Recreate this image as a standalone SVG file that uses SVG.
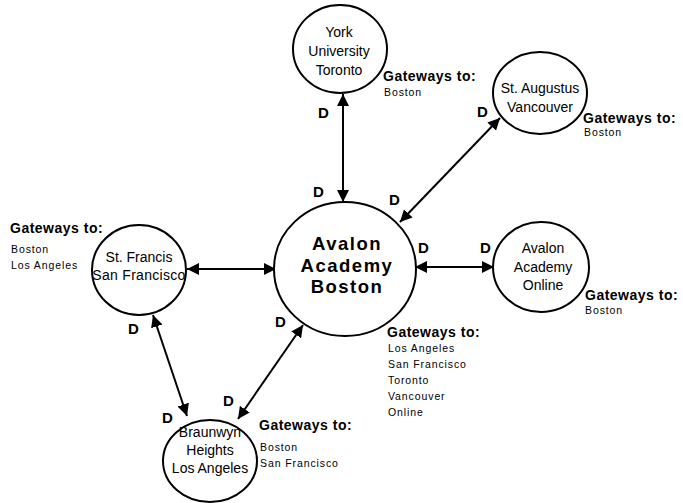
<svg xmlns="http://www.w3.org/2000/svg" width="683" height="503" viewBox="0 0 683 503">
<defs>
<style>
.node{fill:#fff;stroke:#000;stroke-width:2}
.nt{font-family:"Liberation Sans",Arial,sans-serif;font-size:14px;text-anchor:middle;fill:#000}
.bt{font-family:"Liberation Sans",Arial,sans-serif;font-size:18.5px;font-weight:bold;text-anchor:middle;letter-spacing:1.5px;fill:#000}
.gh{font-family:"Liberation Sans",Arial,sans-serif;font-size:14px;font-weight:bold;letter-spacing:0.5px;fill:#000}
.gl{font-family:"Liberation Sans",Arial,sans-serif;font-size:10.5px;letter-spacing:0.9px;fill:#000}
.d{font-family:"Liberation Sans",Arial,sans-serif;font-size:15px;font-weight:bold;fill:#000}
.c{stroke:#000;stroke-width:2;fill:none;marker-start:url(#ah);marker-end:url(#ah)}
</style>
<marker id="ah" viewBox="0 0 10 10" refX="10" refY="5" markerWidth="12" markerHeight="12" markerUnits="userSpaceOnUse" orient="auto-start-reverse">
<path d="M0,0 L10,5 L0,10 z" fill="#000"/>
</marker>
</defs>
<g id="connectors">
<line class="c" x1="343" y1="94" x2="343" y2="202"/>
<line class="c" x1="500" y1="118" x2="400" y2="222"/>
<line class="c" x1="187" y1="269" x2="276" y2="269"/>
<line class="c" x1="415" y1="267" x2="494" y2="267"/>
<line class="c" x1="153" y1="315" x2="187" y2="416"/>
<line class="c" x1="303" y1="325" x2="238" y2="419"/>
</g>
<g id="york">
<ellipse class="node" cx="340" cy="49" rx="47" ry="44"/>
<text class="nt" x="339" y="37">York</text>
<text class="nt" x="339" y="56">University</text>
<text class="nt" x="339" y="75">Toronto</text>
</g>
<g id="staugustus">
<ellipse class="node" cx="540" cy="93" rx="47" ry="41"/>
<text class="nt" x="540" y="93">St. Augustus</text>
<text class="nt" x="540" y="112">Vancouver</text>
</g>
<g id="boston">
<ellipse class="node" cx="345" cy="269" rx="71" ry="67"/>
<text class="bt" x="347" y="250">Avalon</text>
<text class="bt" x="347" y="272">Academy</text>
<text class="bt" x="347" y="293">Boston</text>
</g>
<g id="stfrancis">
<ellipse class="node" cx="139" cy="270" rx="47" ry="45"/>
<text class="nt" x="139" y="262">St. Francis</text>
<text class="nt" x="139" y="280" style="letter-spacing:0.3px">San Francisco</text>
</g>
<g id="online">
<ellipse class="node" cx="541" cy="267" rx="48" ry="45"/>
<text class="nt" x="543" y="253">Avalon</text>
<text class="nt" x="543" y="272">Academy</text>
<text class="nt" x="543" y="290">Online</text>
</g>
<g id="braunwyn">
<ellipse class="node" cx="210" cy="461" rx="47" ry="41"/>
<text class="nt" x="210" y="437">Braunwyn</text>
<text class="nt" x="210" y="455">Heights</text>
<text class="nt" x="210" y="473">Los Angeles</text>
</g>
<g id="labels">
<text class="d" x="318" y="118">D</text>
<text class="d" x="313" y="197">D</text>
<text class="d" x="477" y="117">D</text>
<text class="d" x="389" y="205">D</text>
<text class="d" x="418" y="253">D</text>
<text class="d" x="480" y="253">D</text>
<text class="d" x="128" y="334">D</text>
<text class="d" x="275" y="327">D</text>
<text class="d" x="162" y="423">D</text>
<text class="d" x="223" y="406">D</text>
</g>
<g id="gateways">
<text class="gh" x="383" y="81">Gateways to:</text>
<text class="gl" x="384" y="96">Boston</text>
<text class="gh" x="583" y="123">Gateways to:</text>
<text class="gl" x="584" y="136">Boston</text>
<text class="gh" x="10" y="233">Gateways to:</text>
<text class="gl" x="11" y="253">Boston</text>
<text class="gl" x="11" y="269">Los Angeles</text>
<text class="gh" x="585" y="300">Gateways to:</text>
<text class="gl" x="585" y="314">Boston</text>
<text class="gh" x="387" y="337">Gateways to:</text>
<text class="gl" x="388" y="352">Los Angeles</text>
<text class="gl" x="388" y="368">San Francisco</text>
<text class="gl" x="388" y="384">Toronto</text>
<text class="gl" x="388" y="400">Vancouver</text>
<text class="gl" x="388" y="416">Online</text>
<text class="gh" x="259" y="430">Gateways to:</text>
<text class="gl" x="260" y="451">Boston</text>
<text class="gl" x="260" y="467">San Francisco</text>
</g>
</svg>
